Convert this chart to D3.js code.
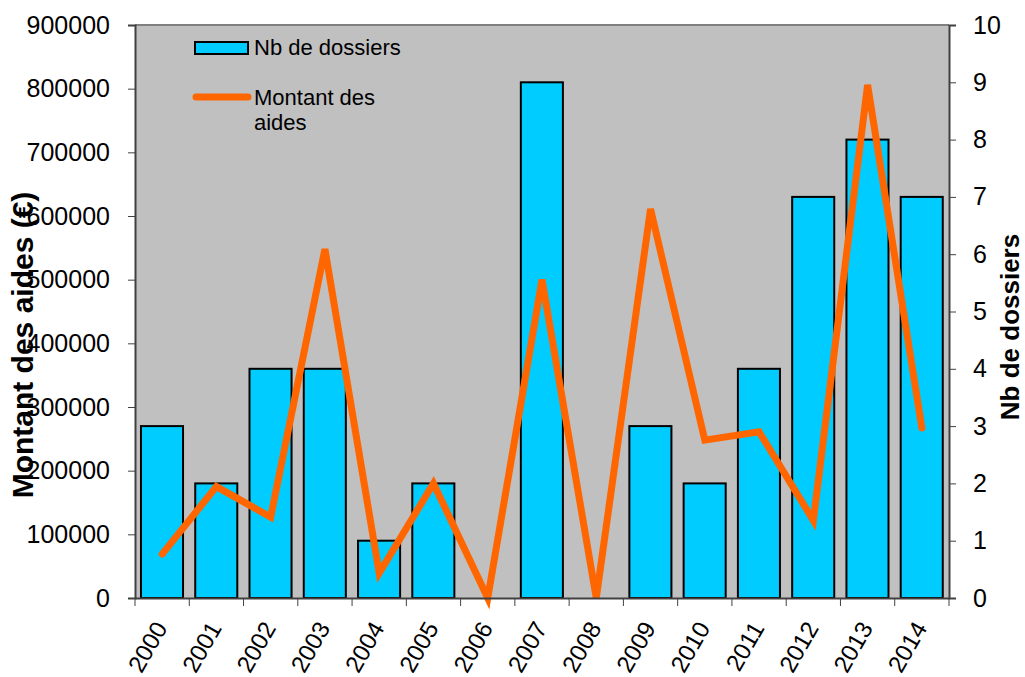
<!DOCTYPE html>
<html><head><meta charset="utf-8">
<script src="https://cdn.jsdelivr.net/npm/d3@7"></script>
<style>body{margin:0;background:#fff}svg{display:block}text{font-family:"Liberation Sans",Arial,sans-serif}</style>
</head><body>
<svg id="c" width="1025" height="677"></svg>
<script>
const years = ["2000","2001","2002","2003","2004","2005","2006","2007","2008","2009","2010","2011","2012","2013","2014"];
const nbDossiers = [3,2,4,4,1,2,0,9,0,3,2,4,7,8,7];
const montant = [69000,175000,127000,548000,39000,180000,0,500000,0,611000,248000,261000,122000,806000,267000];
const leftTicks = [0,100000,200000,300000,400000,500000,600000,700000,800000,900000];
const rightTicks = [0,1,2,3,4,5,6,7,8,9,10];

const svg = d3.select("#c");
const L = 135, R = 949, T = 25, B = 598;
const xc = d3.scaleBand().domain(years).range([L, R]);
const yL = d3.scaleLinear().domain([0, 900000]).range([B, T]);
const yR = d3.scaleLinear().domain([0, 10]).range([B, T]);
const FONT = "Liberation Sans, Arial, sans-serif";

svg.append("rect").attr("x", L).attr("y", T).attr("width", R - L).attr("height", B - T).attr("fill", "#C0C0C0");
svg.append("line").attr("x1", L).attr("x2", R).attr("y1", T).attr("y2", T).attr("stroke", "#808080").attr("stroke-width", 2);

svg.selectAll(".bar").data(years).enter().append("rect")
  .attr("x", d => xc(d) + xc.bandwidth() * 0.11).attr("width", xc.bandwidth() * 0.775)
  .attr("y", (d, i) => yR(nbDossiers[i])).attr("height", (d, i) => B - yR(nbDossiers[i]))
  .attr("fill", "#00CCFF").attr("stroke", "#000").attr("stroke-width", 2);

const line = d3.line().x((d, i) => xc(years[i]) + xc.bandwidth() / 2).y(d => yL(d));
svg.append("path").datum(montant).attr("d", line).attr("fill", "none")
  .attr("stroke", "#FF6600").attr("stroke-width", 7).attr("stroke-linejoin", "miter").attr("stroke-linecap", "round");

// Left axis
const gL = svg.append("g").attr("transform", `translate(${L},0)`)
  .call(d3.axisLeft(yL).tickValues(leftTicks).tickFormat(d3.format("d")).tickSize(7).tickPadding(18));
gL.select(".domain").attr("stroke", "#404040").attr("stroke-width", 2);
gL.selectAll(".tick line").attr("stroke", "#404040");
gL.selectAll("text").attr("font-size", 25).attr("fill", "#000").style("font-family", FONT);

// Right axis
const gR = svg.append("g").attr("transform", `translate(${R},0)`)
  .call(d3.axisRight(yR).tickValues(rightTicks).tickSize(7).tickPadding(17));
gR.select(".domain").attr("stroke", "#404040").attr("stroke-width", 2);
gR.selectAll(".tick line").attr("stroke", "#404040");
gR.selectAll("text").attr("font-size", 25).attr("fill", "#000").style("font-family", FONT);

// Bottom axis
const gB = svg.append("g").attr("transform", `translate(0,${B})`)
  .call(d3.axisBottom(xc).tickSize(0).tickPadding(0));
gB.select(".domain").attr("stroke", "#404040").attr("stroke-width", 2);
gB.selectAll(".tick text").attr("font-size", 24).attr("fill", "#000")
  .attr("text-anchor", "end").attr("x", 0).attr("y", 0).attr("dy", 0)
  .attr("transform", "translate(6,30) rotate(-60)")
  .style("font-family", FONT);
svg.selectAll(".sep").data(d3.range(years.length + 1)).enter().append("line")
  .attr("x1", i => L + i * xc.bandwidth()).attr("x2", i => L + i * xc.bandwidth())
  .attr("y1", B).attr("y2", B + 8).attr("stroke", "#404040").attr("stroke-width", 1);

// Axis titles
svg.append("text").attr("transform", `translate(33,345) rotate(-90)`)
  .attr("text-anchor", "middle").attr("font-size", 30).attr("font-weight", "bold").text("Montant des aides (€)");
svg.append("text").attr("transform", `translate(1019,327) rotate(-90)`)
  .attr("text-anchor", "middle").attr("font-size", 26).attr("font-weight", "bold").text("Nb de dossiers");

// Legend
svg.append("rect").attr("x", 195).attr("y", 42).attr("width", 53).attr("height", 12)
  .attr("fill", "#00CCFF").attr("stroke", "#000").attr("stroke-width", 2);
svg.append("text").attr("x", 254).attr("y", 55).attr("font-size", 22).text("Nb de dossiers");
svg.append("line").attr("x1", 196).attr("x2", 248).attr("y1", 97).attr("y2", 97)
  .attr("stroke", "#FF6600").attr("stroke-width", 7).attr("stroke-linecap", "round");
svg.append("text").attr("x", 254).attr("y", 105).attr("font-size", 22).text("Montant des");
svg.append("text").attr("x", 254).attr("y", 130).attr("font-size", 22).text("aides");
</script>
</body></html>
